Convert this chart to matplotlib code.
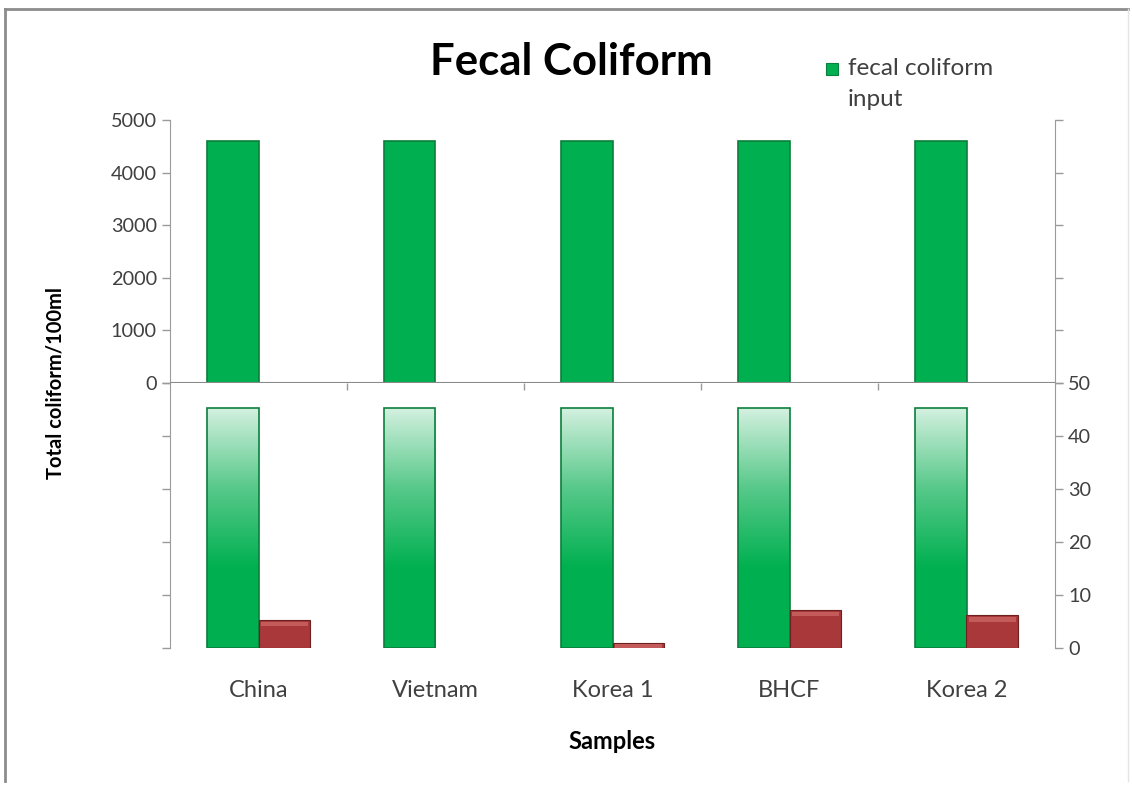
import numpy as np
import matplotlib
matplotlib.use("Agg")
import matplotlib.pyplot as plt
from matplotlib.patches import Rectangle
from matplotlib.lines import Line2D
from matplotlib.colors import LinearSegmentedColormap

plt.rcParams['font.family'] = ['Lato', 'DejaVu Sans']

# sample data
samples = ['China', 'Vietnam', 'Korea 1', 'BHCF', 'Korea 2']
fecal_input = [4600, 4600, 4600, 4600, 4600]
fecal_output = [5.3, 0, 1.0, 7.2, 6.2]

GREEN = '#00b050'
GREEN_EDGE = '#0b7f3c'
RED = '#a8383a'
RED_EDGE = '#6e1f20'
GREY = '#9a9a9a'
TXT = '#404040'

fig = plt.figure(figsize=(11.32, 7.85), dpi=100)

left, width = 170 / 1132, 885 / 1132
ax_bot = fig.add_axes([left, 1 - 648 / 785, width, 265 / 785])
ax_top = fig.add_axes([left, 1 - 383 / 785, width, 263 / 785])
ax_top.patch.set_visible(False)
ax_top.set_zorder(3)

x = np.arange(len(samples))
w = 0.29

# --- upper panel: full scale of the input counts
ax_top.bar(x - w / 2, fecal_input, w, color=GREEN, edgecolor=GREEN_EDGE, linewidth=1.2)
red_top = ax_top.bar(x + w / 2, fecal_output, w, color=RED, edgecolor=RED_EDGE, linewidth=0.5)
for b in red_top:
    if b.get_height() == 0:
        b.set_linewidth(0)
ax_top.set_ylim(0, 5000)
ax_top.set_xlim(-0.5, len(samples) - 0.5)
ax_top.set_yticks(range(0, 5001, 1000))
ax_top.axhline(0, color='#8a8a8a', linewidth=1.5, zorder=3)
ax_top.set_xticks(np.arange(0.5, len(samples) - 0.5))
ax_top.set_xticklabels([])
ax_top.tick_params(axis='x', length=5, width=1, color=GREY, direction='out')
ax_top.tick_params(axis='y', labelsize=14.3, labelcolor=TXT, color=GREY, length=6, width=1)
ax_top.tick_params(axis='y', which='both', right=True)
for side in ['top', 'bottom']:
    ax_top.spines[side].set_visible(False)
for side in ['left', 'right']:
    ax_top.spines[side].set_color(GREY)

# --- lower panel: zoomed scale for the output counts
cap = 45.3  # height where the clipped input bars stop
fade = LinearSegmentedColormap.from_list('fade', [GREEN, GREEN, '#58c98a', '#d4f1e0'])
grad = np.linspace(0, 1, 256).reshape(-1, 1)
green_bars = ax_bot.bar(x - w / 2, np.minimum(fecal_input, cap), w, color='none',
                        edgecolor=GREEN_EDGE, linewidth=1.2, zorder=2)
for b in green_bars:
    x0 = b.get_x()
    img = ax_bot.imshow(grad, cmap=fade, origin='lower', aspect='auto',
                        extent=[x0, x0 + b.get_width(), 0, b.get_height()], zorder=1)
    img.set_clip_path(b)
ax_bot.set_xlim(-0.5, len(samples) - 0.5)
ax_bot.set_ylim(0, 50)
red_bot = ax_bot.bar(x + w / 2, fecal_output, w, color=RED, edgecolor=RED_EDGE,
                     linewidth=0.8, zorder=2)
for b in red_bot:
    if b.get_height() == 0:
        b.set_linewidth(0)
# light bevel on top of the red bars
ax_bot.bar(x + w / 2, [min(v, 0.8) for v in fecal_output], w * 0.92,
           bottom=[max(v - 1.2, 0) for v in fecal_output],
           color='#d06a6a', linewidth=0, zorder=3, alpha=0.7)

ax_bot.yaxis.tick_right()
ax_bot.set_yticks(range(0, 51, 10))
ax_bot.tick_params(axis='y', which='both', left=True, labelleft=False,
                   labelsize=14.3, labelcolor=TXT, color=GREY, length=6, width=1)
ax_bot.set_xticks(x)
ax_bot.set_xticklabels(samples)
ax_bot.tick_params(axis='x', length=0, pad=23, labelsize=17, labelcolor=TXT)
for side in ['top', 'bottom']:
    ax_bot.spines[side].set_visible(False)
for side in ['left', 'right']:
    ax_bot.spines[side].set_color(GREY)

# titles and axis labels
fig.text(0.505, 0.921, 'Fecal Coliform', ha='center', va='center',
         fontsize=31.5, fontweight='bold', color='black')
fig.text(0.0486, 0.512, 'Total coliform/100ml', rotation=90, ha='center', va='center',
         fontsize=14.5, fontweight='bold', color='black')
fig.text(0.541, 0.055, 'Samples', ha='center', va='center',
         fontsize=17, fontweight='bold', color='black')

# legend
fig.patches.append(Rectangle((826 / 1132, 1 - 75 / 785), 12 / 1132, 12 / 785,
                             transform=fig.transFigure, facecolor=GREEN,
                             edgecolor=GREEN_EDGE, linewidth=0.8))
fig.text(848 / 1132, 1 - 58 / 785, 'fecal coliform\ninput', ha='left', va='top',
         fontsize=17.5, color=TXT, linespacing=1.6)

# chart border
fig.add_artist(Line2D([5 / 1132, 5 / 1132], [0.005, 1 - 9 / 785], transform=fig.transFigure,
                      color='#8c8c8c', linewidth=2))
fig.add_artist(Line2D([5 / 1132, 1128 / 1132], [1 - 9 / 785, 1 - 9 / 785], transform=fig.transFigure,
                      color='#8c8c8c', linewidth=2))
fig.add_artist(Line2D([1128 / 1132, 1128 / 1132], [0.005, 1 - 9 / 785], transform=fig.transFigure,
                      color='#e4e4e4', linewidth=1))

fig.savefig('out.png', dpi=100)
